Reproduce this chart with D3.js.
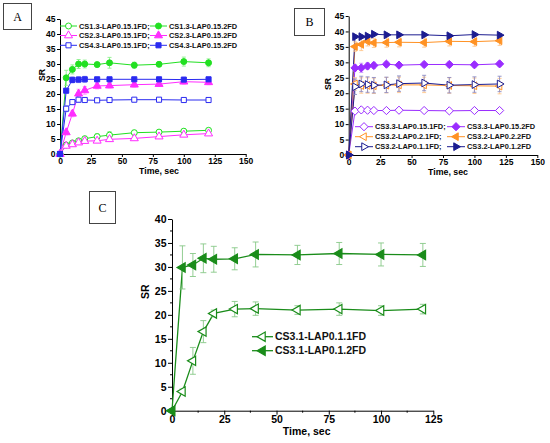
<!DOCTYPE html>
<html><head><meta charset="utf-8">
<script src="https://cdn.jsdelivr.net/npm/d3@7"></script>
<style>body{margin:0;background:#fff}svg{display:block}</style>
</head><body><svg id="c" width="550" height="443" font-family='"Liberation Sans",Arial,sans-serif'></svg>
<script>
// ---------- data ----------
const time = [0,5,10,15,20,30,40,60,80,100,120];

// Panel A
const a_cs13_1 = [0,3.0,3.7,4.4,5.1,5.8,6.3,7.1,7.3,7.6,7.9];
const a_cs13_2 = [0,25.4,28.2,30.0,30.0,29.8,30.4,29.6,29.9,30.8,30.4];
const a_cs23_1 = [0,2.7,3.2,3.8,4.3,4.4,4.9,5.2,5.8,6.4,6.8];
const a_cs23_2 = [0,7.2,13.4,20.1,21.2,22.7,22.8,23.1,23.3,24.1,23.9];
const a_cs43_1 = [0,15.1,17.3,18.1,18.0,17.9,18.0,18.1,18.1,18.0,18.0];
const a_cs43_2 = [0,21.1,24.7,24.8,24.9,24.9,24.9,24.9,24.9,24.8,24.9];
const a_err13_1 = [0,0.5,0.6,0.7,0.8,1.0,1.2,0.8,0.8,0.8,0.8];
const a_err13_2 = [0,2.5,1.5,1.5,1.3,0.8,1.8,1.0,0.8,1.5,1.3];
const a_err23_1 = [0,0.5,0.5,0.5,0.5,0.5,0.6,0.5,0.5,0.6,0.5];
const a_err23_2 = [0,0.8,1.0,1.5,1.3,1.0,0.8,0.8,0.8,0.8,0.8];
const a_err43_1 = [0,1.0,0.5,0.8,0.5,0.4,0.4,0.4,0.4,0.4,0.4];
const a_err43_2 = [0,0.8,1.0,1.0,1.0,0.5,0.5,0.5,0.5,0.5,0.5];

// Panel B
const b_cs33_1 = [0,14.2,14.6,14.5,14.4,14.4,14.5,14.4,14.3,14.4,14.4];
const b_cs33_2 = [0,28.2,28.2,28.8,29.0,29.4,29.1,29.3,29.3,29.2,29.5];
const b_cs32a_1 = [0,23.0,22.5,22.5,22.4,22.6,22.7,22.7,22.5,22.4,22.3];
const b_cs32a_2 = [0,35.1,35.8,36.8,36.3,36.4,36.5,36.4,36.8,36.7,37.0];
const b_cs32b_1 = [0,22.1,23.0,22.8,22.6,22.7,23.1,23.3,22.6,22.8,23.0];
const b_cs32b_2 = [0,38.3,38.3,38.5,39.1,38.9,38.9,38.9,38.6,39.0,38.8];
const b_err33_1 = [0,0.3,0.3,0.3,0.3,0.3,0.3,0.3,0.3,0.3,0.3];
const b_err33_2 = [0,1.0,1.5,1.0,1.0,0.8,0.8,0.8,0.8,0.8,0.8];
const b_err32a_1 = [0,2.0,2.5,2.5,2.5,2.5,2.5,2.5,2.5,2.5,2.5];
const b_err32a_2 = [0,1.5,2.0,1.5,1.5,1.5,1.5,1.5,1.5,1.5,1.5];
const b_err32b_1 = [0,2.5,2.5,2.5,2.5,2.5,2.5,2.5,2.5,2.5,2.5];
const b_err32b_2 = [0,0.5,0.5,0.5,0.5,0.5,0.5,0.5,0.5,0.5,0.5];

// Panel C
const c_cs31_1 = [0,4.0,10.4,16.5,20.3,21.2,21.3,21.0,21.2,20.9,21.2];
const c_cs31_2 = [0,29.9,30.4,31.8,31.6,31.7,32.6,32.5,32.8,32.6,32.5];
const c_err31_1 = [0,0.5,2.8,2.3,0.7,1.6,1.4,0.9,1.3,1.0,1.0];
const c_err31_2 = [0,4.5,2.4,3.0,2.7,2.3,2.6,2.0,2.3,2.4,2.4];

const xTicksAB = [0,25,50,75,100,125,150];
const yTicksAB = [0,5,10,15,20,25,30,35,40,45];
const xTicksC = [0,25,50,75,100,125];
const yTicksC = [0,5,10,15,20,25,30,35,40];

// ---------- drawing ----------
const svg = d3.select("#c");
const SANS = '"Liberation Sans",Arial,sans-serif';
const SERIF = '"Liberation Serif","Times New Roman",serif';

function symPath(shape, size){
  if(shape==="circle") return d3.symbol(d3.symbolCircle, size)();
  if(shape==="square") return d3.symbol(d3.symbolSquare, size)();
  if(shape==="diamond"){const s=Math.sqrt(size)*0.75;return `M0,${-s}L${s},0L0,${s}L${-s},0Z`;}
  return d3.symbol(d3.symbolTriangle, size)();
}
function rot(shape){return shape==="left"?-90:shape==="right"?90:0;}

function marker(g, x, y, s){
  g.append("path").attr("d", symPath(s.shape, s.size))
   .attr("transform", `translate(${x},${y}) rotate(${rot(s.shape)})`)
   .attr("fill", s.filled ? s.color : "#fff")
   .attr("stroke", s.color).attr("stroke-width", s.mw||1);
}

function panel(cfg){
  const g = svg.append("g");
  const x = d3.scaleLinear().domain(cfg.xd).range(cfg.xr);
  const y = d3.scaleLinear().domain(cfg.yd).range(cfg.yr);
  const ax = g.append("g").attr("transform",`translate(0,${cfg.yr[0]})`)
    .call(d3.axisBottom(x).tickValues(cfg.xt).tickSize(cfg.tick).tickSizeOuter(0).tickFormat(d3.format("d")));
  const ay = g.append("g").attr("transform",`translate(${cfg.xr[0]},0)`)
    .call(d3.axisLeft(y).tickValues(cfg.yt).tickSize(cfg.tick).tickSizeOuter(0).tickFormat(d3.format("d")));
  [ax,ay].forEach(a=>{
    a.attr("font-family",SANS);
    a.select(".domain").attr("stroke","#000").attr("stroke-width",1);
    a.selectAll(".tick line").attr("stroke","#000");
    a.selectAll("text").attr("font-size",cfg.fs).attr("font-weight","bold").attr("fill","#000");
  });
  ax.selectAll("text").attr("dy","0.71em").attr("y",cfg.tick+1);
  ay.selectAll("text").attr("x",-cfg.tick-1.5);
  if(cfg.minor){
    const mx = cfg.xt.slice(0,-1).map((d,i)=>(d+cfg.xt[i+1])/2);
    const my = cfg.yt.slice(0,-1).map((d,i)=>(d+cfg.yt[i+1])/2);
    g.selectAll(null).data(mx).enter().append("line").attr("x1",d=>x(d)).attr("x2",d=>x(d))
      .attr("y1",cfg.yr[0]).attr("y2",cfg.yr[0]+cfg.tick/2).attr("stroke","#000");
    g.selectAll(null).data(my).enter().append("line").attr("y1",d=>y(d)).attr("y2",d=>y(d))
      .attr("x1",cfg.xr[0]).attr("x2",cfg.xr[0]-cfg.tick/2).attr("stroke","#000");
  }
  g.append("text").attr("x",cfg.xl[0]).attr("y",cfg.xl[1]).attr("text-anchor","middle")
    .attr("font-size",cfg.tfs).attr("font-weight","bold").text("Time, sec");
  g.append("text").attr("transform",`translate(${cfg.yl[0]},${cfg.yl[1]}) rotate(-90)`).attr("text-anchor","middle")
    .attr("font-size",cfg.tfs).attr("font-weight","bold").text("SR");
  const line = d3.line().x((d,i)=>x(time[i])).y(d=>y(d));
  cfg.series.forEach(s=>{
    g.append("path").attr("d",line(s.v)).attr("fill","none").attr("stroke",s.color).attr("stroke-width",cfg.lw);
  });
  cfg.series.forEach(s=>{
    s.v.forEach((v,i)=>{
      const e=s.e[i]; if(!e) return;
      const xx=x(time[i]);
      g.append("path").attr("d",`M${xx},${y(v-e)}V${y(v+e)}M${xx-cfg.cap},${y(v+e)}h${2*cfg.cap}M${xx-cfg.cap},${y(v-e)}h${2*cfg.cap}`)
       .attr("stroke",s.ecolor).attr("stroke-width",0.9).attr("fill","none");
    });
  });
  cfg.series.forEach(s=>{
    s.v.forEach((v,i)=>marker(g,x(time[i]),y(v),s));
  });
  cfg.legend.forEach(L=>{
    const s=L.s;
    g.append("line").attr("x1",L.x).attr("x2",L.x+cfg.llen).attr("y1",L.y).attr("y2",L.y)
      .attr("stroke",s.color).attr("stroke-width",cfg.lw);
    marker(g,L.x+cfg.llen/2,L.y,s);
    g.append("text").attr("x",L.x+cfg.llen+2).attr("y",L.y).attr("dy","0.36em")
      .attr("font-size",cfg.lfs).attr("font-weight","bold").attr("fill","#111").text(L.t);
  });
  const b=cfg.box;
  svg.append("rect").attr("x",b[0]+0.5).attr("y",b[1]+0.5).attr("width",b[2]).attr("height",b[3])
    .attr("fill","#fff").attr("stroke","#444").attr("stroke-width",1);
  svg.append("text").attr("x",b[0]+b[2]/2+0.5).attr("y",b[1]+b[3]/2+0.5).attr("dy","0.35em").attr("text-anchor","middle")
    .attr("font-family",SERIF).attr("font-size",12).text(b[4]);
}

// Panel A
const green="#22e022", greenE="#8cf08c", pink="#ff2cff", pinkE="#ff99ff", blue="#2a2af0", blueE="#9a9af8";
const A = [
  {v:a_cs13_1,e:a_err13_1,color:green,ecolor:greenE,shape:"circle",filled:false,size:28},
  {v:a_cs13_2,e:a_err13_2,color:green,ecolor:greenE,shape:"circle",filled:true,size:28},
  {v:a_cs23_1,e:a_err23_1,color:pink,ecolor:pinkE,shape:"up",filled:false,size:28},
  {v:a_cs23_2,e:a_err23_2,color:pink,ecolor:pinkE,shape:"up",filled:true,size:28},
  {v:a_cs43_1,e:a_err43_1,color:blue,ecolor:blueE,shape:"square",filled:false,size:26},
  {v:a_cs43_2,e:a_err43_2,color:blue,ecolor:blueE,shape:"square",filled:true,size:26},
];
panel({xd:[0,150],xr:[60,245.7],yd:[0,45],yr:[154,19],xt:xTicksAB,yt:yTicksAB,tick:3,fs:8.5,tfs:8.8,
  xl:[159,173.5],yl:[45,75],lw:1,cap:2,llen:17,lfs:7.4,box:[3,3,28,26,"A"],series:A,
  legend:[
    {s:A[0],x:60,y:26,t:"CS1.3-LAP0.15.1FD;"},{s:A[1],x:150,y:26,t:"CS1.3-LAP0.15.2FD"},
    {s:A[2],x:60,y:35.5,t:"CS2.3-LAP0.15.1FD;"},{s:A[3],x:150,y:35.5,t:"CS2.3-LAP0.15.2FD"},
    {s:A[4],x:60,y:45.3,t:"CS4.3-LAP0.15.1FD;"},{s:A[5],x:150,y:45.3,t:"CS4.3-LAP0.15.2FD"}]});

// Panel B
const purple="#9a2cff", purpleE="#c99aff", orange="#ff9224", orangeE="#ffc68c", navy="#1c1c90", navyE="#8c8cc4";
const B = [
  {v:b_cs33_1,e:b_err33_1,color:purple,ecolor:purpleE,shape:"diamond",filled:false,size:30},
  {v:b_cs33_2,e:b_err33_2,color:purple,ecolor:purpleE,shape:"diamond",filled:true,size:30},
  {v:b_cs32a_1,e:b_err32a_1,color:orange,ecolor:orangeE,shape:"left",filled:false,size:26},
  {v:b_cs32a_2,e:b_err32a_2,color:orange,ecolor:orangeE,shape:"left",filled:true,size:26},
  {v:b_cs32b_1,e:b_err32b_1,color:navy,ecolor:navyE,shape:"right",filled:false,size:26},
  {v:b_cs32b_2,e:b_err32b_2,color:navy,ecolor:navyE,shape:"right",filled:true,size:26},
];
panel({xd:[0,150],xr:[348.7,537.3],yd:[0,45],yr:[155,16],xt:xTicksAB,yt:yTicksAB,tick:3,fs:8.5,tfs:8.8,
  xl:[448,175],yl:[331,84],lw:1,cap:2,llen:18,lfs:7.4,box:[294,8,30,27,"B"],series:B,
  legend:[
    {s:B[0],x:355,y:126.7,t:"CS3.3-LAP0.15.1FD;"},{s:B[1],x:447,y:126.7,t:"CS3.3-LAP0.15.2FD"},
    {s:B[2],x:355,y:136.7,t:"CS3.2-LAP0.2.1FD;"},{s:B[3],x:447,y:136.7,t:"CS3.2-LAP0.2.2FD"},
    {s:B[4],x:355,y:146.7,t:"CS3.2-LAP0.1.1FD;"},{s:B[5],x:447,y:146.7,t:"CS3.2-LAP0.1.2FD"}]});

// Panel C
const cgreen="#1a8c1a", cgreenE="#88c888";
const C = [
  {v:c_cs31_1,e:c_err31_1,color:cgreen,ecolor:cgreenE,shape:"left",filled:false,size:38,mw:1.2},
  {v:c_cs31_2,e:c_err31_2,color:cgreen,ecolor:cgreenE,shape:"left",filled:true,size:38,mw:1.2},
];
panel({xd:[0,125],xr:[172,433.3],yd:[0,40],yr:[410.7,219],xt:xTicksC,yt:yTicksC,tick:4,fs:10.5,tfs:10.5,
  minor:true,xl:[306.7,435],yl:[149,291.7],lw:1.3,cap:3,llen:21,lfs:10.5,box:[89,191,26,32,"C"],series:C,
  legend:[
    {s:C[0],x:252,y:336.7,t:"CS3.1-LAP0.1.1FD"},
    {s:C[1],x:252,y:350.7,t:"CS3.1-LAP0.1.2FD"}]});
</script></body></html>
